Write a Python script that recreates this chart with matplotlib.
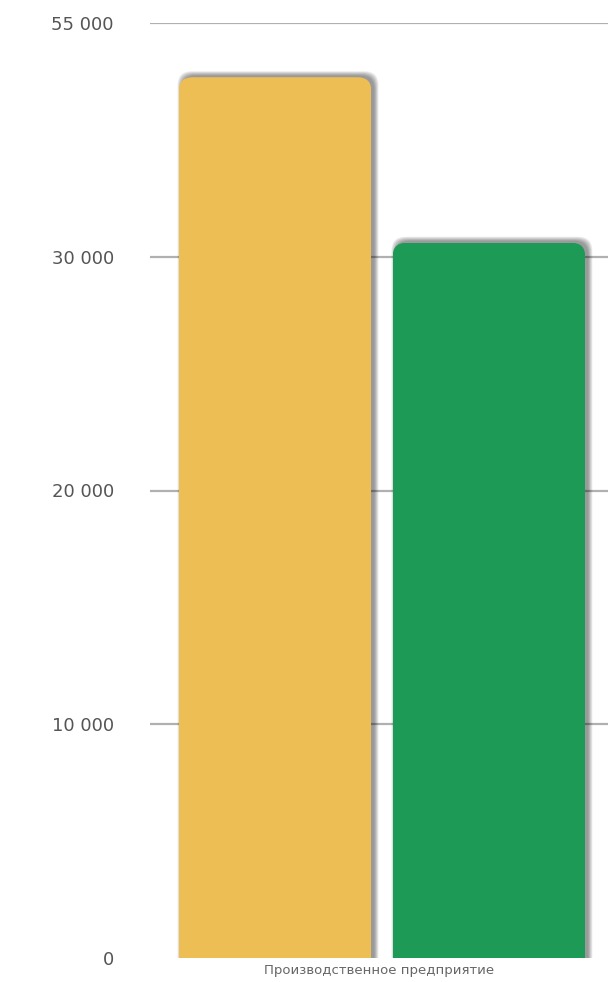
import numpy as np
import matplotlib
matplotlib.use("Agg")
import matplotlib.pyplot as plt
from matplotlib.patches import FancyBboxPatch
from matplotlib.transforms import IdentityTransform

# === Dane ===
category = "Производственное предприятие"
values = [49200, 31500]
colors = ["#EDBE53", "#1D9A55"]
offsets = [-0.227, 0.240]

tick_values = [0, 10000, 20000, 30000, 55000]
tick_labels = ["0", "10 000", "20 000", "30 000", "55 000"]
tick_pos = np.arange(len(tick_values), dtype=float)


def fwd(y):
    return np.interp(y, tick_values, tick_pos)


def inv(p):
    return np.interp(p, tick_pos, tick_values)


fig = plt.figure(figsize=(6.08, 9.82), dpi=100)
ax = fig.add_axes([150 / 608, 1 - 958 / 982, 1 - 150 / 608, (958 - 23) / 982])

ax.set_yscale("function", functions=(fwd, inv))
ax.set_ylim(0, 55000)
ax.set_xlim(-0.5, 0.5)

bars = ax.bar(offsets, values, width=0.421, color=colors, zorder=3)

ax.set_yticks(tick_values)
ax.set_yticklabels(tick_labels)
ax.yaxis.set_minor_locator(plt.NullLocator())
ax.tick_params(axis="y", length=0, pad=26, labelsize=13, labelcolor="#555555")
ax.yaxis.grid(True, color="#b0b0b0", linewidth=1.6, zorder=0)
ax.set_axisbelow(True)

ax.set_xticks([0.0])
ax.set_xticklabels([category])
ax.tick_params(axis="x", length=0, pad=4, labelsize=9.5, labelcolor="#666666")

for s in ax.spines.values():
    s.set_visible(False)

# === Zaokrąglone rogi i cień ===
fig.canvas.draw()
ax.yaxis.get_gridlines()[0].set_visible(False)
renderer = fig.canvas.get_renderer()
for bar in bars:
    bb = bar.get_window_extent(renderer)
    x0, y0, w, h = bb.x0, bb.y0, bb.width, bb.height
    clip = FancyBboxPatch((x0, y0 - 30), w, h + 30,
                          boxstyle="round,pad=0,rounding_size=14",
                          transform=IdentityTransform(), facecolor="none")
    bar.set_clip_path(clip)
    for i in range(6):
        sh = FancyBboxPatch((x0 + 3, y0 - 30 + 2), w, h + 30,
                            boxstyle="round,pad=%f,rounding_size=14" % (i * 0.8),
                            transform=IdentityTransform(),
                            facecolor="black", edgecolor="none",
                            alpha=0.08, zorder=2)
        ax.add_patch(sh)
        sh.set_clip_box(ax.bbox)

fig.savefig("out.png", dpi=100)
